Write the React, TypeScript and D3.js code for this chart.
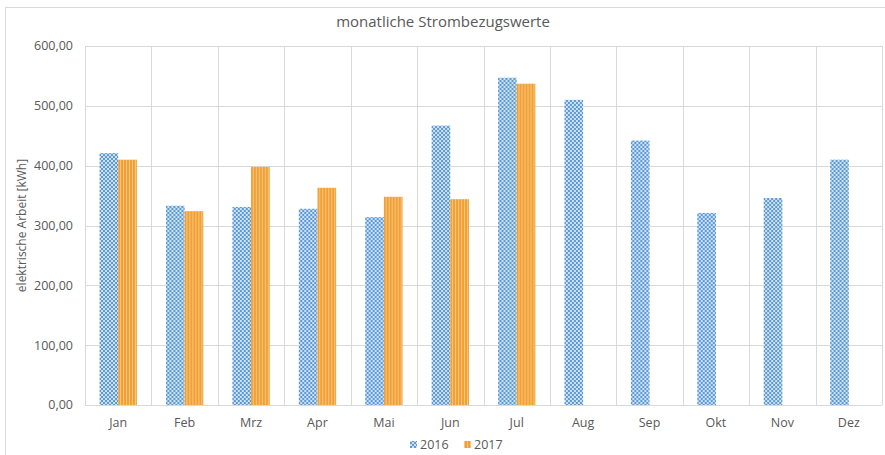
import * as d3 from 'd3';
import {useEffect, useRef} from "react";

const months = ["Jan", "Feb", "Mrz", "Apr", "Mai", "Jun", "Jul", "Aug", "Sep", "Okt", "Nov", "Dez"];
const years = ["2016", "2017"];
const values2016 = [421, 333, 331, 328, 314, 467, 547, 510, 442, 321, 346, 410];
const values2017: (number | null)[] = [410, 324, 398, 363, 348, 344, 537, null, null, null, null, null];
const yTicks = [0, 100, 200, 300, 400, 500, 600];

export default function App() {
    const chartRef = useRef<SVGSVGElement>(null);

    useEffect(() => {
        const width = 885;
        const height = 455;
        const marginTop = 46;
        const marginRight = 3;
        const marginBottom = 50;
        const marginLeft = 85;
        const font = "'Open Sans', 'Liberation Sans', sans-serif";

        const svg = d3.select(chartRef.current);
        svg.selectAll("*").remove();

        // patterns
        const defs = svg.append("defs");
        const check = defs.append("pattern")
            .attr("id", "p2016").attr("patternUnits", "userSpaceOnUse")
            .attr("width", 4).attr("height", 4);
        check.append("rect").attr("width", 4).attr("height", 4).attr("fill", "#cfe0f2");
        check.append("rect").attr("width", 2).attr("height", 2).attr("fill", "#5b9bd5");
        check.append("rect").attr("x", 2).attr("y", 2).attr("width", 2).attr("height", 2).attr("fill", "#5b9bd5");

        const stripe = defs.append("pattern")
            .attr("id", "p2017").attr("patternUnits", "userSpaceOnUse")
            .attr("width", 3).attr("height", 3);
        stripe.append("rect").attr("width", 3).attr("height", 3).attr("fill", "#f9c57e");
        stripe.append("rect").attr("width", 2).attr("height", 3).attr("fill", "#f0a035");

        // chart frame
        svg.append("rect")
            .attr("x", 5.5).attr("y", 7.5)
            .attr("width", width).attr("height", height)
            .attr("fill", "#fff").attr("stroke", "#d9d9d9");

        const x = d3.scaleBand()
            .domain(months)
            .range([marginLeft, width - marginRight])
            .paddingInner(0)
            .paddingOuter(0);

        const xSub = d3.scaleBand()
            .domain(years)
            .range([0, x.bandwidth()])
            .paddingOuter(0.78);

        const y = d3.scaleLinear()
            .domain([0, 600])
            .range([height - marginBottom, marginTop]);

        // horizontal gridlines
        svg.append("g")
            .selectAll("line")
            .data(yTicks.slice(1))
            .join("line")
            .attr("x1", marginLeft).attr("x2", width - marginRight)
            .attr("y1", d => Math.round(y(d)) + 0.5).attr("y2", d => Math.round(y(d)) + 0.5)
            .attr("stroke", "#d9d9d9");

        // vertical gridlines at category borders
        svg.append("g")
            .selectAll("line")
            .data(months.concat(["end"]))
            .join("line")
            .attr("x1", (d, i) => Math.round(marginLeft + i * x.step()) + 0.5)
            .attr("x2", (d, i) => Math.round(marginLeft + i * x.step()) + 0.5)
            .attr("y1", marginTop).attr("y2", y(0))
            .attr("stroke", "#d9d9d9");

        // bars
        const groups = svg.append("g")
            .selectAll("g")
            .data(months)
            .join("g")
            .attr("transform", d => `translate(${x(d)},0)`);

        groups.append("rect")
            .filter((d, i) => values2016[i] != null)
            .attr("x", xSub("2016")!)
            .attr("width", xSub.bandwidth())
            .attr("y", (d, i) => y(values2016[i]))
            .attr("height", (d, i) => y(0) - y(values2016[i]))
            .attr("fill", "url(#p2016)");

        groups.each(function (d, i) {
            const v = values2017[i];
            if (v == null) return;
            d3.select(this).append("rect")
                .attr("x", xSub("2017")!)
                .attr("width", xSub.bandwidth())
                .attr("y", y(v))
                .attr("height", y(0) - y(v))
                .attr("fill", "url(#p2017)");
        });

        // baseline
        svg.append("line")
            .attr("x1", marginLeft).attr("x2", width - marginRight)
            .attr("y1", Math.round(y(0)) + 0.5).attr("y2", Math.round(y(0)) + 0.5)
            .attr("stroke", "#d9d9d9");

        // y tick labels
        svg.append("g")
            .selectAll("text")
            .data(yTicks)
            .join("text")
            .attr("x", 73)
            .attr("y", d => y(d))
            .attr("dy", "0.35em")
            .attr("text-anchor", "end")
            .attr("font-family", font)
            .attr("font-size", 12.5)
            .attr("fill", "#595959")
            .text(d => d3.format(".2f")(d).replace(".", ","));

        // x labels
        svg.append("g")
            .selectAll("text")
            .data(months)
            .join("text")
            .attr("x", d => x(d)! + x.bandwidth() / 2)
            .attr("y", 427)
            .attr("text-anchor", "middle")
            .attr("font-family", font)
            .attr("font-size", 12.5)
            .attr("fill", "#595959")
            .text(d => d);

        // title
        svg.append("text")
            .attr("x", 443).attr("y", 27)
            .attr("text-anchor", "middle")
            .attr("font-family", font)
            .attr("font-size", 15)
            .attr("fill", "#595959")
            .text("monatliche Strombezugswerte");

        // y axis title
        svg.append("text")
            .attr("transform", `translate(26,${(marginTop + y(0)) / 2}) rotate(-90)`)
            .attr("text-anchor", "middle")
            .attr("font-family", font)
            .attr("font-size", 12)
            .attr("fill", "#595959")
            .text("elektrische Arbeit [kWh]");

        // legend
        const legend = svg.append("g");
        const legendItems = [{key: "2016", fill: "url(#p2016)", x: 410}, {key: "2017", fill: "url(#p2017)", x: 464}];
        legend.selectAll("rect")
            .data(legendItems)
            .join("rect")
            .attr("x", d => d.x).attr("y", 441)
            .attr("width", 7).attr("height", 7)
            .attr("fill", d => d.fill);
        legend.selectAll("text")
            .data(legendItems)
            .join("text")
            .attr("x", d => d.x + 10).attr("y", 449)
            .attr("font-family", font)
            .attr("font-size", 12.5)
            .attr("fill", "#595959")
            .text(d => d.key);
    }, []);

    return (
        <svg ref={chartRef} width={885} height={455}
             style={{position: "absolute", left: 0, top: 0, display: "block"}}></svg>
    );
}
